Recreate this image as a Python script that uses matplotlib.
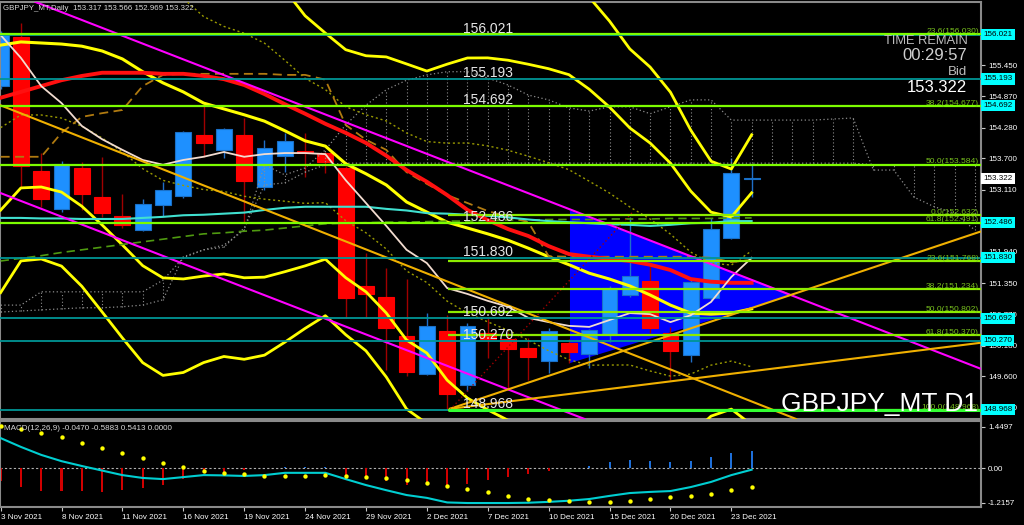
import matplotlib
matplotlib.use('Agg')
import matplotlib.pyplot as plt
import matplotlib.transforms as mtransforms
from matplotlib.patches import Polygon
import numpy as np

plt.rcParams['font.family'] = ['Liberation Sans', 'DejaVu Sans']

# ---------------- data ----------------
dates = ['3 Nov', '4 Nov', '5 Nov', '8 Nov', '9 Nov', '10 Nov', '11 Nov', '12 Nov', '15 Nov',
         '16 Nov', '17 Nov', '18 Nov', '19 Nov', '22 Nov', '23 Nov', '24 Nov', '25 Nov', '26 Nov',
         '29 Nov', '30 Nov', '1 Dec', '2 Dec', '3 Dec', '6 Dec', '7 Dec', '8 Dec', '9 Dec',
         '10 Dec', '13 Dec', '14 Dec', '15 Dec', '16 Dec', '17 Dec', '20 Dec', '21 Dec', '22 Dec',
         '23 Dec', '24 Dec']
opens = [155.06, 155.98, 153.46, 152.75, 153.52, 152.97, 152.62, 152.35, 152.82, 152.99, 154.14,
         153.86, 154.14, 153.16, 153.74, 153.84, 153.80, 153.52, 151.30, 151.09, 150.36, 149.65,
         150.46, 149.44, 150.42, 150.30, 150.13, 149.89, 150.23, 150.02, 150.38, 151.13, 151.39,
         150.42, 150.00, 151.07, 152.20, 153.317]
highs = [156.10, 156.25, 153.80, 153.65, 153.63, 153.73, 153.03, 152.94, 153.26, 154.22, 154.74,
         154.27, 154.46, 154.05, 154.18, 154.18, 153.82, 153.55, 151.92, 151.64, 151.43, 150.79,
         150.76, 150.60, 150.72, 150.44, 150.32, 150.51, 150.30, 150.50, 151.30, 152.60, 151.70,
         150.53, 151.41, 152.58, 153.71, 153.566]
lows = [155.00, 153.16, 152.79, 152.69, 152.73, 152.60, 152.39, 152.33, 152.62, 152.96, 153.73,
        153.71, 152.50, 153.10, 153.45, 153.35, 153.42, 150.70, 150.70, 149.72, 149.61, 149.63,
        148.97, 149.33, 149.95, 149.34, 149.53, 149.66, 149.85, 149.76, 150.25, 151.09, 150.42,
        149.53, 149.87, 151.04, 152.18, 152.969]
closes = [156.05, 153.56, 152.94, 153.59, 153.03, 152.67, 152.45, 152.84, 153.10, 154.20, 153.99,
          154.25, 153.27, 153.89, 154.03, 153.80, 153.63, 151.07, 151.15, 150.51, 149.68, 150.55,
          149.27, 150.55, 150.30, 150.11, 149.96, 150.45, 150.06, 150.47, 151.26, 151.49, 150.51,
          150.08, 151.37, 152.37, 153.42, 153.322]

# Bollinger style envelope (middle + width per bar)
bb_mid = [155.83, 155.89, 155.87, 155.85, 155.81, 155.72, 155.57, 155.33, 155.12, 154.95, 154.74,
          154.63, 154.52, 154.40, 154.22, 154.03, 153.93, 153.60, 153.41, 153.20, 152.88, 152.69,
          152.50, 152.39, 152.28, 152.16, 152.01, 151.85, 151.70, 151.54, 151.43, 151.30, 151.13,
          150.94, 150.79, 150.77, 150.79, 150.87]
bb_sigma = [1.552, 1.373, 1.354, 1.392, 1.505, 1.636, 1.749, 1.824, 1.834, 1.759, 1.627, 1.552,
            1.533, 1.467, 1.326, 1.176, 1.063, 1.072, 1.110, 1.204, 1.298, 1.326, 1.486, 1.599,
            1.655, 1.693, 1.730, 1.768, 1.787, 1.730, 1.617, 1.486, 1.429, 1.335, 1.147, 0.959,
            0.903, 1.091]
ma_red = [154.84, 154.95, 155.06, 155.17, 155.25, 155.31, 155.31, 155.31, 155.29, 155.29, 155.25,
          155.19, 155.08, 154.91, 154.72, 154.54, 154.35, 154.18, 153.99, 153.75, 153.48, 153.26,
          153.01, 152.73, 152.54, 152.37, 152.24, 152.05, 151.90, 151.85, 151.81, 151.77, 151.70,
          151.60, 151.43, 151.38, 151.36, 151.36]
ma_white = [156.02, 155.59, 155.06, 154.74, 154.31, 154.06, 153.86, 153.67, 153.58, 153.67, 153.73,
            153.82, 153.73, 153.78, 153.80, 153.80, 153.78, 153.29, 152.86, 152.43, 151.98, 151.73,
            151.26, 151.15, 151.02, 150.91, 150.70, 150.62, 150.55, 150.53, 150.66, 150.79, 150.77,
            150.62, 150.75, 151.00, 151.47, 151.83]
ma_cyan = [152.58, 152.58, 152.57, 152.57, 152.56, 152.56, 152.56, 152.58, 152.60, 152.63, 152.64,
           152.66, 152.68, 152.73, 152.77, 152.79, 152.79, 152.79, 152.79, 152.75, 152.72, 152.67,
           152.66, 152.64, 152.62, 152.59, 152.55, 152.52, 152.50, 152.48, 152.46, 152.45, 152.43,
           152.45, 152.48, 152.49, 152.52, 152.52]
ma_green_dash = [151.77, 151.82, 151.87, 151.93, 151.98, 152.03, 152.08, 152.13, 152.18, 152.23,
                 152.28, 152.30, 152.33, 152.35, 152.39, 152.43, 152.47, 152.48, 152.49, 152.50,
                 152.50, 152.51, 152.52, 152.52, 152.53, 152.54, 152.54, 152.55, 152.55, 152.55,
                 152.56, 152.56, 152.56, 152.57, 152.57, 152.57, 152.58, 152.58]
kijun = [153.73, 153.73, 153.73, 154.18, 154.48, 154.55, 154.61, 155.06, 155.27, 155.29, 155.29,
         155.29, 155.29, 155.29, 155.27, 155.27, 155.18, 154.33, 154.05, 153.86, 153.44, 153.22,
         153.01, 152.86, 152.71, 152.60, 152.50, 151.86, 151.85, 151.85, 151.85, 151.85, 151.85,
         151.85, 151.85, 151.83, 151.75, 151.79]
span_a = [150.94, 150.94, 151.19, 151.19, 151.19, 151.19, 151.19, 151.19, 151.41, 151.83, 151.98,
          152.07, 152.35, 153.58, 153.39, 153.52, 153.86, 154.33, 154.70, 154.99, 155.17, 155.27,
          155.33, 155.33, 155.21, 155.08, 154.89, 154.80, 154.65, 154.59, 154.67, 154.67, 154.54,
          154.67, 154.80, 154.80, 154.42, 154.42, 154.42, 154.42, 154.42, 154.44, 154.46, 153.48,
          153.48, 152.97, 152.79, 152.67, 152.35]
span_b = [150.81, 150.83, 150.85, 150.87, 150.89, 150.89, 150.91, 150.94, 151.04, 151.85, 151.98,
          152.03, 152.39, 153.20, 153.24, 153.44, 153.58, 153.61, 153.61, 153.61, 153.61, 153.61,
          153.61, 153.61, 153.61, 153.61, 153.61, 153.61, 153.61, 153.61, 153.61, 153.61, 153.61,
          153.61, 153.61, 153.61, 153.61, 153.61, 153.61, 153.61, 153.61, 153.61, 153.61, 153.58,
          153.58, 153.58, 153.58, 153.58, 153.58]

macd_line = [1.06, 0.75, 0.47, 0.25, 0.08, -0.08, -0.24, -0.34, -0.38, -0.31, -0.24, -0.25, -0.27,
             -0.24, -0.16, -0.16, -0.16, -0.38, -0.59, -0.77, -0.94, -1.04, -1.20, -1.22, -1.22,
             -1.22, -1.21, -1.18, -1.14, -1.08, -0.97, -0.87, -0.83, -0.80, -0.66, -0.48, -0.24,
             -0.05]
macd_signal = [1.50, 1.38, 1.24, 1.10, 0.89, 0.71, 0.54, 0.36, 0.19, 0.05, -0.09, -0.16, -0.20,
               -0.27, -0.27, -0.27, -0.24, -0.27, -0.31, -0.34, -0.41, -0.52, -0.62, -0.73, -0.83,
               -0.97, -1.08, -1.11, -1.15, -1.18, -1.18, -1.15, -1.08, -1.01, -0.97, -0.90, -0.76,
               -0.66]
macd_hist = [-0.44, -0.67, -0.81, -0.81, -0.81, -0.83, -0.77, -0.70, -0.60, -0.37, -0.18, -0.12,
             -0.05, 0.02, 0.05, 0.05, 0.03, -0.23, -0.32, -0.46, -0.60, -0.55, -0.65, -0.55, -0.42,
             -0.30, -0.20, -0.09, 0.0, 0.07, 0.22, 0.29, 0.26, 0.22, 0.26, 0.40, 0.54, 0.61]

# horizontal line objects and fibonacci levels
level_lines = [156.021, 155.193, 154.692, 152.486, 151.830, 150.692, 150.270, 148.968]
fib_a_pct = ['23.6', '38.2', '50.0', '61.8']
fib_a_val = [156.030, 154.677, 153.584, 152.491]
fib_b_pct = ['0.0', '23.6', '38.2', '50.0', '61.8', '100.0']
fib_b_val = [152.632, 151.768, 151.234, 150.802, 150.370, 148.968]
fib_b_start = 22.05

# drawn objects (anchor points: bar index, price)
magenta_1 = [(5.64, 156.06), (37.91, 151.28)]
magenta_2 = [(-0.02, 153.05), (25.10, 149.34)]
orange_down = [(-0.02, 154.70), (38.05, 148.97)]
orange_up_1 = [(22.14, 148.99), (48.25, 152.32)]
orange_up_2 = [(22.14, 148.99), (48.25, 150.23)]
red_dotted = [(22.14, 148.97), (31.16, 152.70)]
triangle = [(28.05, 152.72), (28.05, 149.85), (39.04, 151.13)]

price_ticks = [155.450, 154.870, 154.280, 153.700, 153.110, 151.940, 151.350, 150.770, 150.180,
               149.600, 149.010]
bid = 153.322

# ---------------- figure ----------------
W, H = 1024, 525
fig = plt.figure(figsize=(W / 100, H / 100), dpi=100, facecolor='black')


def fx(px):
    return px / W


def fy(py):
    return 1 - py / H


ax = fig.add_axes([0, fy(419), fx(981), (419 - 2) / H])
ax2 = fig.add_axes([0, fy(507), fx(981), (507 - 421) / H])
for a in (ax, ax2):
    a.set_facecolor('black')
    for s in a.spines.values():
        s.set_color('#8a8a8a')
        s.set_linewidth(1.5)

n = len(opens)
x = np.arange(n)
ax.set_xlim(-0.03, 48.3)
ax.set_ylim(148.798, 156.641)
ax2.set_xlim(-0.03, 48.3)
ax2.set_ylim(-1.36, 1.66)

small = 5.8

# triangle
ax.add_patch(Polygon(triangle, closed=True, facecolor='#0000FF', edgecolor='none', zorder=1))

# candles
o = np.array(opens); c = np.array(closes); h = np.array(highs); l = np.array(lows)
bull = c >= o
wick_cols = np.where(bull, '#1f6fc8', '#a00000')
ax.vlines(x, l, h, colors=wick_cols, lw=1.0, zorder=2)
body_b = np.minimum(o, c)
body_h = np.maximum(np.abs(c - o), 0.012)
ax.bar(x[bull], body_h[bull], bottom=body_b[bull], width=0.78, color='#1E90FF',
       edgecolor='#1a70c8', linewidth=0.8, zorder=2.1)
ax.bar(x[~bull], body_h[~bull], bottom=body_b[~bull], width=0.78, color='#FF0000',
       edgecolor='#FF0000', linewidth=0.8, zorder=2.1)

# ichimoku cloud (dotted)
xc = np.arange(len(span_a))
sa = np.array(span_a); sb = np.array(span_b)
ax.plot(xc, sa, color='#8c8c8c', ls=(0, (1, 2)), lw=0.9, zorder=3)
ax.plot(xc, sb, color='#8c8c8c', ls=(0, (1, 2)), lw=0.9, zorder=3)
ax.vlines(xc, np.minimum(sa, sb), np.maximum(sa, sb), colors='#8c8c8c',
          linestyles=(0, (1, 2)), lw=0.8, zorder=3)

# bands
mid = np.array(bb_mid); sd = np.array(bb_sigma)
for k in (2, 3):
    ax.plot(x, mid + k * sd, color='#FFFF00', lw=2, zorder=4)
    ax.plot(x, mid - k * sd, color='#FFFF00', lw=2, zorder=4)
ax.plot(x, mid, color='#FFFF00', lw=2.2, zorder=4)
ax.plot(x, mid + sd, color='#9a9a00', ls=(0, (1.5, 2)), lw=1, zorder=4)
ax.plot(x, mid - sd, color='#9a9a00', ls=(0, (1.5, 2)), lw=1, zorder=4)

# moving averages
ax.plot(x, ma_green_dash, color='#4f9a10', ls=(0, (5, 3)), lw=1.2, zorder=4)
ax.plot(x, kijun, color='#b07a10', ls=(0, (5, 3)), lw=1.3, zorder=4)
ax.plot(x, ma_cyan, color='#40E0D0', lw=1.5, zorder=4.2)
ax.plot(x, ma_red, color='#FF1010', lw=2.8, zorder=4.3)
ax.plot(x, ma_white, color='#F2DCD0', lw=1.3, zorder=4.4)

# trend lines
ax.axline(magenta_1[0], magenta_1[1], color='#FF00FF', lw=1.5, zorder=5)
ax.axline(magenta_2[0], magenta_2[1], color='#FF00FF', lw=1.5, zorder=5)
ax.axline(orange_down[0], orange_down[1], color='#F0B000', lw=1.5, zorder=5)
for seg in (orange_up_1, orange_up_2):
    ax.plot([seg[0][0], seg[1][0]], [seg[0][1], seg[1][1]], color='#F0B000', lw=1.5, zorder=5)
ax.plot([red_dotted[0][0], red_dotted[1][0]], [red_dotted[0][1], red_dotted[1][1]],
        color='#a00000', ls=(0, (1, 2)), lw=1, zorder=5)

# horizontal lines
for lv in level_lines:
    ax.axhline(lv, color='#009595', lw=1.3, zorder=6)
for lv in fib_a_val:
    ax.axhline(lv, color='#7CFC00', lw=1.6, zorder=6.1)
ax.hlines(fib_b_val, fib_b_start, 48.3, color='#8CEB00', lw=1.6, zorder=6.1)
ax.hlines([fib_b_val[-1]], fib_b_start, 48.3, color='#33FF33', lw=2.2, zorder=6.2)

trans = mtransforms.blended_transform_factory(ax.transAxes, ax.transData)
fib_col = '#78C01E'
for p, v in zip(fib_a_pct + fib_b_pct, fib_a_val + fib_b_val):
    ax.annotate(f'{p}({v:.3f})', xy=(0.998, v), xycoords=trans, xytext=(0, 1),
                textcoords='offset points', ha='right', va='baseline', fontsize=6.1,
                color=fib_col, zorder=7)

label_x = 22.78
for lv in level_lines:
    ax.annotate(f'{lv:.3f}', xy=(label_x, lv), xytext=(0, 1.5), textcoords='offset points',
                ha='left', va='baseline', fontsize=10, color='#e6e6e6', zorder=8)

# right price axis
ax.yaxis.tick_right()
ax.set_yticks(price_ticks)
ax.set_yticklabels([f'{t:.3f}' for t in price_ticks])
ax.tick_params(axis='y', colors='#c8c8c8', labelcolor='white', labelsize=small, length=3,
               width=0.8, pad=2)
ax.set_xticks([])

for lv in level_lines:
    ax.text(1.0025, lv, f'{lv:.3f}', transform=trans, ha='left', va='center', fontsize=small,
            color='black', zorder=9, clip_on=False,
            bbox=dict(boxstyle='square,pad=0.25', fc='#00FFFF', ec='none'))
ax.text(1.0025, bid, f'{bid:.3f}', transform=trans, ha='left', va='center', fontsize=small,
        color='black', zorder=9, clip_on=False,
        bbox=dict(boxstyle='square,pad=0.25', fc='white', ec='none'))

# MACD panel
hist = np.array(macd_hist)
ax2.bar(x, hist, width=0.1, color=np.where(hist >= 0, '#1E6FD9', '#D00000'), zorder=2)
ax2.plot(x, macd_line, color='#00CED1', lw=1.5, zorder=3)
ax2.scatter(x, macd_signal, s=10, color='#FFFF00', zorder=4, linewidths=0)
ax2.axhline(0, color='#b0b0b0', ls=(0, (2, 2)), lw=0.8, zorder=1)
ax2.yaxis.tick_right()
ax2.set_yticks([1.4497, 0.0, -1.2157])
ax2.set_yticklabels(['1.4497', '0.00', '-1.2157'])
ax2.tick_params(axis='y', colors='#c8c8c8', labelcolor='white', labelsize=small, length=3,
                width=0.8, pad=2)
tick_idx = list(range(0, n - 1, 3))
ax2.set_xticks(tick_idx)
ax2.set_xticklabels([dates[i] + ' 2021' for i in tick_idx], ha='left')
ax2.tick_params(axis='x', colors='#c8c8c8', labelcolor='white', labelsize=small, length=3,
                width=0.8, pad=2)

# texts
fig.text(fx(3), fy(9), 'GBPJPY_MT,Daily  153.317 153.566 152.969 153.322', color='#d8d8d8',
         fontsize=5.7, va='center', ha='left')
fig.text(fx(4), fy(428), 'MACD(12,26,9) -0.0470 -0.5883 0.5413 0.0000', color='#d8d8d8',
         fontsize=5.8, va='center', ha='left')
fig.text(fx(968), fy(41), 'TIME REMAIN', ha='right', va='center', fontsize=9.3,
         color='#bdbdbd')
fig.text(fx(967), fy(55), '00:29:57', ha='right', va='center', fontsize=12,
         color='#d0d0d0')
fig.text(fx(967), fy(72), 'Bid', ha='right', va='center', fontsize=9.5,
         color='#bdbdbd')
fig.text(fx(967), fy(87), f'{bid:.3f}', ha='right', va='center', fontsize=12,
         color='white')
fig.text(fx(978), fy(404), 'GBPJPY_MT D1', ha='right', va='center', fontsize=19,
         color='white')

fig.savefig('out.png', dpi=100, facecolor='black')
